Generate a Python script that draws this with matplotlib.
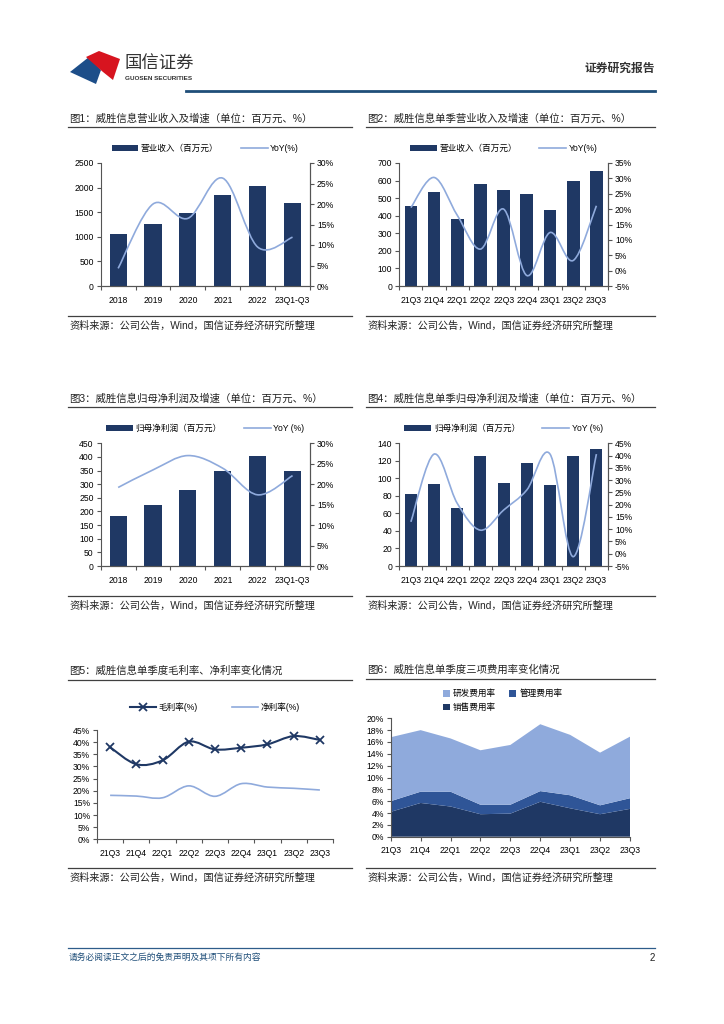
import numpy as np
import matplotlib.pyplot as plt
from matplotlib.path import Path
from matplotlib.patches import PathPatch, Polygon, Patch
from matplotlib.lines import Line2D
from matplotlib.ticker import PercentFormatter

plt.rcParams['font.family'] = ['Liberation Sans', 'Noto Sans CJK SC', 'DejaVu Sans']
plt.rcParams['axes.unicode_minus'] = False

W, H = 724, 1024

# 数据
years = ['2018', '2019', '2020', '2021', '2022', '23Q1-Q3']
quarters = ['21Q3', '21Q4', '22Q1', '22Q2', '22Q3', '22Q4', '23Q1', '23Q2', '23Q3']

rev_year = [1050, 1255, 1480, 1850, 2025, 1690]
rev_year_yoy = [4.3, 20.0, 16.5, 26.3, 9.5, 11.9]
rev_q = [455, 533, 380, 580, 545, 522, 430, 595, 655]
rev_q_yoy = [20.5, 30.3, 18.0, 7.0, 20.0, -1.6, 12.4, 3.3, 21.1]
np_year = [182, 222, 280, 347, 403, 350]
np_year_yoy = [19.2, 23.5, 27.0, 23.9, 17.4, 22.1]
np_q = [82, 94, 66, 126, 95, 117, 92, 125, 133]
np_q_yoy = [13.0, 40.6, 20.5, 9.6, 17.8, 26.0, 40.6, -1.2, 40.6]
gross_margin = [37.9, 30.9, 32.5, 40.2, 37.0, 37.7, 39.1, 42.5, 40.9]
net_margin = [18.1, 17.8, 17.1, 22.0, 17.7, 22.9, 21.5, 21.0, 20.3]
sell_rate = [4.2, 5.7, 5.1, 3.8, 3.9, 5.9, 4.8, 3.8, 4.7]
admin_rate = [1.8, 1.9, 2.5, 1.6, 1.5, 1.8, 2.2, 1.5, 1.8]
rd_rate = [10.8, 10.4, 9.0, 9.2, 10.1, 11.3, 10.2, 8.9, 10.4]

NAVY = '#1F3864'
LIGHT = '#8FAADC'
MID = '#2F5597'
GREY = '#404040'
FS = 6.2

fig = plt.figure(figsize=(W / 100, H / 100), dpi=100)


def fx(x):
    return x / W


def fy(y):
    return 1 - y / H


def add_ax(l, t, r, b):
    return fig.add_axes([fx(l), fy(b), (r - l) / W, (b - t) / H])


def hline(x0, x1, y, color=GREY, lw=0.9):
    fig.add_artist(Line2D([fx(x0), fx(x1)], [fy(y), fy(y)], color=color, lw=lw,
                          transform=fig.transFigure))


def smooth_path(x, y):
    # 平滑曲线（Catmull-Rom 转三次贝塞尔）
    pts = np.column_stack([x, y]).astype(float)
    ext = np.vstack([pts[0], pts, pts[-1]])
    verts = [pts[0]]
    codes = [Path.MOVETO]
    for i in range(len(pts) - 1):
        p0, p1, p2, p3 = ext[i], ext[i + 1], ext[i + 2], ext[i + 3]
        verts += [p1 + (p2 - p0) / 6, p2 - (p3 - p1) / 6, p2]
        codes += [Path.CURVE4] * 3
    return Path(verts, codes)


def panel_frame(x0, x1, title, y_title, y_ul, y_src_line, y_src):
    fig.text(fx(x0 + 1), fy(y_title), title, fontsize=7.5, va='center', color='#222222')
    hline(x0, x1, y_ul)
    hline(x0, x1, y_src_line)
    fig.text(fx(x0 + 1), fy(y_src), '资料来源：公司公告，Wind，国信证券经济研究所整理',
             fontsize=7.3, va='center', color='#222222')


def style_axis(ax):
    ax.spines['top'].set_visible(False)
    for s in ['left', 'bottom', 'right']:
        ax.spines[s].set_color('#555555')
        ax.spines[s].set_linewidth(0.8)
    ax.tick_params(axis='y', which='major', length=3, width=0.8, labelsize=FS,
                   direction='out', pad=2, color='#555555')


def bar_line(rect, cats, bars, yoy, bar_label, line_label, ymax, ystep,
             pmin, pmax, pstep, leg_y, bw):
    ax = add_ax(*rect)
    x = np.arange(len(cats))
    ax.bar(x, bars, width=bw, color=NAVY, zorder=2)
    ax.set_xlim(-0.5, len(cats) - 0.5)
    ax.set_ylim(0, ymax)
    ax.set_yticks(np.arange(0, ymax + 1, ystep))
    ax.set_xticks(x, cats)
    ax.set_xticks(np.arange(-0.5, len(cats)), minor=True)
    ax.tick_params(axis='x', which='major', length=0, pad=7, labelsize=FS)
    ax.tick_params(axis='x', which='minor', length=3, width=0.8, color='#555555')
    style_axis(ax)

    ax2 = ax.twinx()
    ax2.set_ylim(pmin, pmax)
    ax2.set_yticks(np.arange(pmin, pmax + 0.1, pstep))
    ax2.yaxis.set_major_formatter(PercentFormatter(decimals=0))
    ax2.add_patch(PathPatch(smooth_path(x, yoy), fill=False, edgecolor=LIGHT,
                            lw=1.2, zorder=3))
    style_axis(ax2)
    ax2.spines['left'].set_visible(False)
    ax2.tick_params(axis='y', length=3, labelsize=FS, pad=2)

    handles = [Patch(facecolor=NAVY), Line2D([], [], color=LIGHT, lw=1.2)]
    ax.legend(handles, [bar_label, line_label], loc='center', ncol=2,
              bbox_to_anchor=(0.5, leg_y), frameon=False, fontsize=FS,
              handlelength=3.1, handletextpad=0.3, columnspacing=2.6)
    return ax, ax2


# 页眉
fig.add_artist(Polygon([(fx(70), fy(72)), (fx(89), fy(57)), (fx(101), fy(70)),
                        (fx(96), fy(84))], closed=True, facecolor='#1D4E89',
                       transform=fig.transFigure))
fig.add_artist(Polygon([(fx(86), fy(57)), (fx(99), fy(51)), (fx(120), fy(59)),
                        (fx(113), fy(80)), (fx(103), fy(72))], closed=True,
                       facecolor='#D7141F', transform=fig.transFigure))
fig.text(fx(125), fy(64), '国信证券', fontsize=12.5, va='center', color='#333333')
fig.text(fx(125), fy(78), 'GUOSEN SECURITIES', fontsize=4.6, va='center',
         color='#333333', fontweight='bold')
fig.text(fx(655), fy(69), '证券研究报告', fontsize=8.5, va='center', ha='right',
         color='#333333', fontweight='bold')
hline(186, 655, 91, color='#1F4E79', lw=2)

# 图1
panel_frame(68, 352, '图1：威胜信息营业收入及增速（单位：百万元、%）', 119, 127, 316, 326)
bar_line((100.7, 163, 310, 286), years, rev_year, rev_year_yoy,
         '营业收入（百万元）', 'YoY(%)', 2500, 500, 0, 30, 5, 1.12, 0.49)

# 图2
panel_frame(366, 655, '图2：威胜信息单季营业收入及增速（单位：百万元、%）', 119, 127, 316, 326)
bar_line((399.3, 163, 608, 286), quarters, rev_q, rev_q_yoy,
         '营业收入（百万元）', 'YoY(%)', 700, 100, -5, 35, 5, 1.12, 0.55)

# 图3
panel_frame(68, 352, '图3：威胜信息归母净利润及增速（单位：百万元、%）', 399, 407, 596, 606)
bar_line((100.7, 443.3, 310, 566), years, np_year, np_year_yoy,
         '归母净利润（百万元）', 'YoY (%)', 450, 50, 0, 30, 5, 1.12, 0.49)

# 图4
panel_frame(366, 655, '图4：威胜信息单季归母净利润及增速（单位：百万元、%）', 399, 407, 596, 606)
bar_line((399.3, 443.3, 608, 566), quarters, np_q, np_q_yoy,
         '归母净利润（百万元）', 'YoY (%)', 140, 20, -5, 45, 5, 1.12, 0.52)

# 图5
panel_frame(68, 352, '图5：威胜信息单季度毛利率、净利率变化情况', 671, 680, 868, 878)
ax5 = add_ax(97, 730, 333, 839.3)
x = np.arange(len(quarters))
ax5.add_patch(PathPatch(smooth_path(x, gross_margin), fill=False, edgecolor=NAVY,
                        lw=1.5, zorder=3))
ax5.plot(x, gross_margin, ls='none', marker='x', ms=5.5, mew=1.3, color=NAVY, zorder=4)
ax5.add_patch(PathPatch(smooth_path(x, net_margin), fill=False, edgecolor=LIGHT,
                        lw=1.2, zorder=3))
ax5.set_xlim(-0.5, len(quarters) - 0.5)
ax5.set_ylim(0, 45)
ax5.set_yticks(np.arange(0, 46, 5))
ax5.yaxis.set_major_formatter(PercentFormatter(decimals=0))
ax5.set_xticks(x, quarters)
ax5.set_xticks(np.arange(-0.5, len(quarters)), minor=True)
ax5.tick_params(axis='x', which='major', length=0, pad=7, labelsize=FS)
ax5.tick_params(axis='x', which='minor', length=3, width=0.8, color='#555555')
style_axis(ax5)
ax5.spines['right'].set_visible(False)
h5 = [Line2D([], [], color=NAVY, lw=1.5, marker='x', ms=5.5, mew=1.3),
      Line2D([], [], color=LIGHT, lw=1.2)]
ax5.legend(h5, ['毛利率(%)', '净利率(%)'], loc='center', ncol=2,
           bbox_to_anchor=(0.5, 1.21), frameon=False, fontsize=FS,
           handlelength=3.0, handletextpad=0.3, columnspacing=4.0)

# 图6
panel_frame(366, 655, '图6：威胜信息单季度三项费用率变化情况', 670, 679, 868, 878)
ax6 = add_ax(390.7, 718.3, 630, 836.7)
ax6.stackplot(x, sell_rate, admin_rate, rd_rate, colors=[NAVY, MID, LIGHT],
              labels=['销售费用率', '管理费用率', '研发费用率'])
ax6.set_xlim(0, len(quarters) - 1)
ax6.set_ylim(0, 20)
ax6.set_yticks(np.arange(0, 21, 2))
ax6.yaxis.set_major_formatter(PercentFormatter(decimals=0))
ax6.set_xticks(x, quarters)
ax6.tick_params(axis='x', which='major', length=3, width=0.8, pad=4,
                labelsize=FS, color='#555555')
style_axis(ax6)
ax6.spines['right'].set_visible(False)
h6 = [Patch(facecolor=LIGHT), Patch(facecolor=NAVY), Patch(facecolor=MID)]
ax6.legend(h6, ['研发费用率', '销售费用率', '管理费用率'], loc='upper left', ncol=2,
           bbox_to_anchor=(0.185, 1.31), frameon=False, fontsize=FS,
           handlelength=0.8, handleheight=0.8, handletextpad=0.4,
           columnspacing=1.5, labelspacing=0.55)

# 页脚
hline(68, 655, 948, color='#2E5C8A', lw=0.9)
fig.text(fx(69), fy(957), '请务必阅读正文之后的免责声明及其项下所有内容', fontsize=6.3,
         va='center', color='#1F4E79', style='italic')
fig.text(fx(655), fy(958), '2', fontsize=7, va='center', ha='right', color='#222222')

fig.savefig('out.png', dpi=100)
